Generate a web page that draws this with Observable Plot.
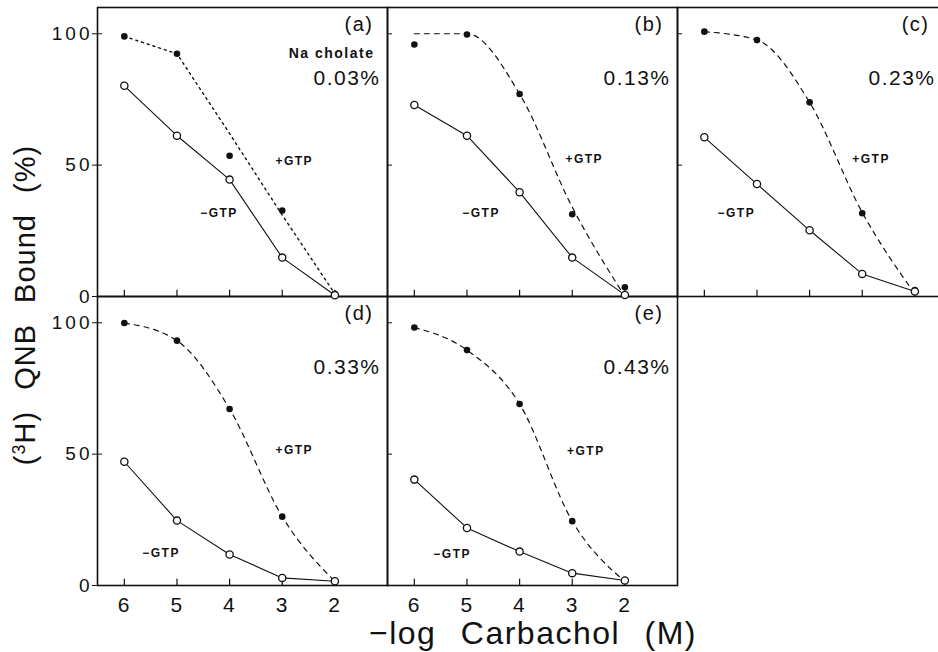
<!DOCTYPE html>
<html>
<head>
<meta charset="utf-8">
<script src="https://cdn.jsdelivr.net/npm/d3@7"></script>
<script src="https://cdn.jsdelivr.net/npm/@observablehq/plot@0.6"></script>
<style>
  html, body { margin: 0; padding: 0; background: #fff; overflow: hidden; }
  #wrap { position: relative; width: 938px; height: 652px; overflow: hidden; }
  #chart { position: absolute; left: 0; top: 0; width: 967px; }
  #chart svg { max-width: none !important; }
  .lab { position: absolute; font-family: "Liberation Sans", Arial, sans-serif; color: #111; white-space: pre; line-height: 1; }
  #ylab { left: 25px; top: 305px; font-size: 29px; letter-spacing: 1px; word-spacing: 12px; transform: translate(-50%, -50%) rotate(-90deg); }
  #ylab sup { font-size: 62%; vertical-align: 0.55em; line-height: 0; }
  #xlab { left: 533px; top: 617px; font-size: 32px; letter-spacing: 1.5px; word-spacing: 14px; transform: translateX(-50%); }
</style>
</head>
<body>
<div id="wrap">
  <div id="chart"></div>
  <div class="lab" id="ylab">(<sup>3</sup>H) QNB Bound (%)</div>
  <div class="lab" id="xlab">−log Carbachol (M)</div>
</div>
<script>
// ---- data ----
const panels = ["a", "b", "c", "d", "e"];
const panelCol = [0, 1, 2, 0, 1];
const panelRow = [0, 0, 0, 1, 1];
const cholate = ["0.03%", "0.13%", "0.23%", "0.33%", "0.43%"];
const logCarbachol = [6, 5, 4, 3, 2];
const xTickLabels = ["6", "5", "4", "3", "2"];
const yTicks = [0, 50, 100];

// −GTP (open circles, solid line)
const minusGTP_a = [80.2, 61.2, 44.5, 14.8, 0.5];
const minusGTP_b = [72.9, 61.2, 39.7, 14.8, 0.6];
const minusGTP_c = [60.6, 42.8, 25.2, 8.6, 1.9];
const minusGTP_d = [47.1, 24.7, 11.8, 2.9, 1.6];
const minusGTP_e = [40.3, 21.9, 12.9, 4.7, 1.9];

// +GTP (filled circles)
const plusGTP_a = [99.0, 92.4, 53.6, 32.7, 1.0];
const plusGTP_b = [95.9, 99.7, 77.1, 31.3, 3.5];
const plusGTP_c = [100.8, 97.6, 73.9, 31.7, 2.5];
const plusGTP_d = [99.9, 93.2, 67.2, 26.2, 1.5];
const plusGTP_e = [98.2, 89.6, 69.1, 24.5, 2.0];

// +GTP fitted curve (dashed line)
const plusFit_a = [99.0, 92.4, 62.0, 31.0, 1.0];
const plusFit_b = [100.0, 100.0, 77.1, 34.0, 0.0];
const plusFit_c = [100.8, 97.6, 73.9, 32.0, 1.0];
const plusFit_d = [99.9, 93.2, 67.2, 26.2, 1.5];
const plusFit_e = [98.2, 89.6, 69.1, 24.5, 1.5];

// in-panel label anchors (data coordinates)
const plusLabelX = [3.13, 3.13, 3.19, 3.13, 3.10];
const plusLabelY = [51.7, 52.1, 52.1, 51.7, 51.3];
const minusLabelX = [4.56, 5.09, 5.75, 5.66, 5.64];
const minusLabelY = [31.6, 31.9, 31.6, 12.2, 11.8];

// ---- tables built from the arrays ----
const minusAll = [minusGTP_a, minusGTP_b, minusGTP_c, minusGTP_d, minusGTP_e];
const plusAll = [plusGTP_a, plusGTP_b, plusGTP_c, plusGTP_d, plusGTP_e];
const fitAll = [plusFit_a, plusFit_b, plusFit_c, plusFit_d, plusFit_e];

const rows = [];
panels.forEach((p, i) => {
  logCarbachol.forEach((x, j) => {
    rows.push({panel: p, col: panelCol[i], row: panelRow[i], x, xl: xTickLabels[j],
      minus: minusAll[i][j], plus: plusAll[i][j], fit: fitAll[i][j]});
  });
});
const info = panels.map((p, i) => ({
  panel: p, col: panelCol[i], row: panelRow[i], tag: `(${p})`, conc: cholate[i],
  px: plusLabelX[i], py: plusLabelY[i], mx: minusLabelX[i], my: minusLabelY[i]
}));
const notC = info.filter(d => d.panel !== "c");
const onlyC = info.filter(d => d.panel === "c");
const bottomRow = rows.filter(d => d.row === 1);
const F = {fx: "col", fy: "row"};
const ink = "#111";
const font = "Liberation Sans, Arial, sans-serif";

const chart = Plot.plot({
  width: 967,
  height: 652,
  marginTop: 7,
  marginRight: 0,
  marginBottom: 67,
  marginLeft: 97,
  style: {fontFamily: font, color: ink, background: "white", maxWidth: "none"},
  fx: {padding: 0, axis: null},
  fy: {padding: 0, axis: null},
  x: {domain: [6.51, 1.0], axis: null},
  y: {domain: [0, 110], axis: null},
  marks: [
    Plot.frame({stroke: ink, strokeWidth: 1.6}),
    Plot.ruleX(logCarbachol, {x: d => d, y1: 0, y2: 2.4, stroke: ink, strokeWidth: 1.2}),
    Plot.axisY({ticks: [50, 100], facetAnchor: null, tickSize: -5, tickFormat: () => "", stroke: ink}),
    Plot.axisY({ticks: yTicks, facetAnchor: "left", tickSize: 5, tickPadding: 0, fontSize: 19, stroke: ink, fill: ink, label: null}),
    // x tick labels only under the bottom row of panels
    Plot.text(bottomRow, {...F, x: "x", text: "xl", frameAnchor: "bottom", dy: 20, lineAnchor: "middle", fontSize: 21, fill: ink}),
    Plot.line(rows.filter(d => d.panel === "a"), {x: "x", y: "fit", z: "panel", ...F, stroke: ink, strokeWidth: 1.4, strokeDasharray: "2,4"}),
    Plot.line(rows.filter(d => d.panel !== "a"), {x: "x", y: "fit", z: "panel", ...F, stroke: ink, strokeWidth: 1.2, strokeDasharray: "5,5", curve: "monotone-x"}),
    Plot.line(rows, {x: "x", y: "minus", z: "panel", ...F, stroke: ink, strokeWidth: 1.1}),
    Plot.dot(rows, {x: "x", y: "plus", ...F, r: 3.3, fill: ink, stroke: "none"}),
    Plot.dot(rows, {x: "x", y: "minus", ...F, r: 3.6, fill: "white", stroke: ink, strokeWidth: 1.3}),
    // panel tags and cholate concentrations
    Plot.text(notC, {...F, text: "tag", frameAnchor: "top-right", dx: -14, dy: 17, lineAnchor: "middle", textAnchor: "end", fontSize: 20, fill: ink}),
    Plot.text(onlyC, {...F, text: "tag", frameAnchor: "top-right", dx: -38, dy: 17, lineAnchor: "middle", textAnchor: "end", fontSize: 20, fill: ink}),
    Plot.text(notC, {...F, text: "conc", frameAnchor: "top-right", dx: -7, dy: 71, lineAnchor: "middle", textAnchor: "end", fontSize: 21, fill: ink}),
    Plot.text(onlyC, {...F, text: "conc", frameAnchor: "top-right", dx: -32, dy: 71, lineAnchor: "middle", textAnchor: "end", fontSize: 21, fill: ink}),
    Plot.text(info.filter(d => d.panel === "a"), {...F, text: () => "Na cholate", frameAnchor: "top-right", dx: -13, dy: 46, lineAnchor: "middle", textAnchor: "end", fontSize: 14, fontWeight: "bold", fill: ink}),
    // +GTP / −GTP labels
    Plot.text(info, {...F, x: "px", y: "py", text: () => "+GTP", textAnchor: "start", fontSize: 12, fontWeight: "bold", fill: ink}),
    Plot.text(info, {...F, x: "mx", y: "my", text: () => "−GTP", textAnchor: "start", fontSize: 12, fontWeight: "bold", fill: ink})
  ]
});

document.getElementById("chart").appendChild(chart);
const svg = d3.select(chart);
svg.selectAll('g[aria-label="y-axis tick label"] text').style("letter-spacing", "3px");
svg.selectAll('g[aria-label="text"] text').style("letter-spacing", "1.5px");
</script>
</body>
</html>
